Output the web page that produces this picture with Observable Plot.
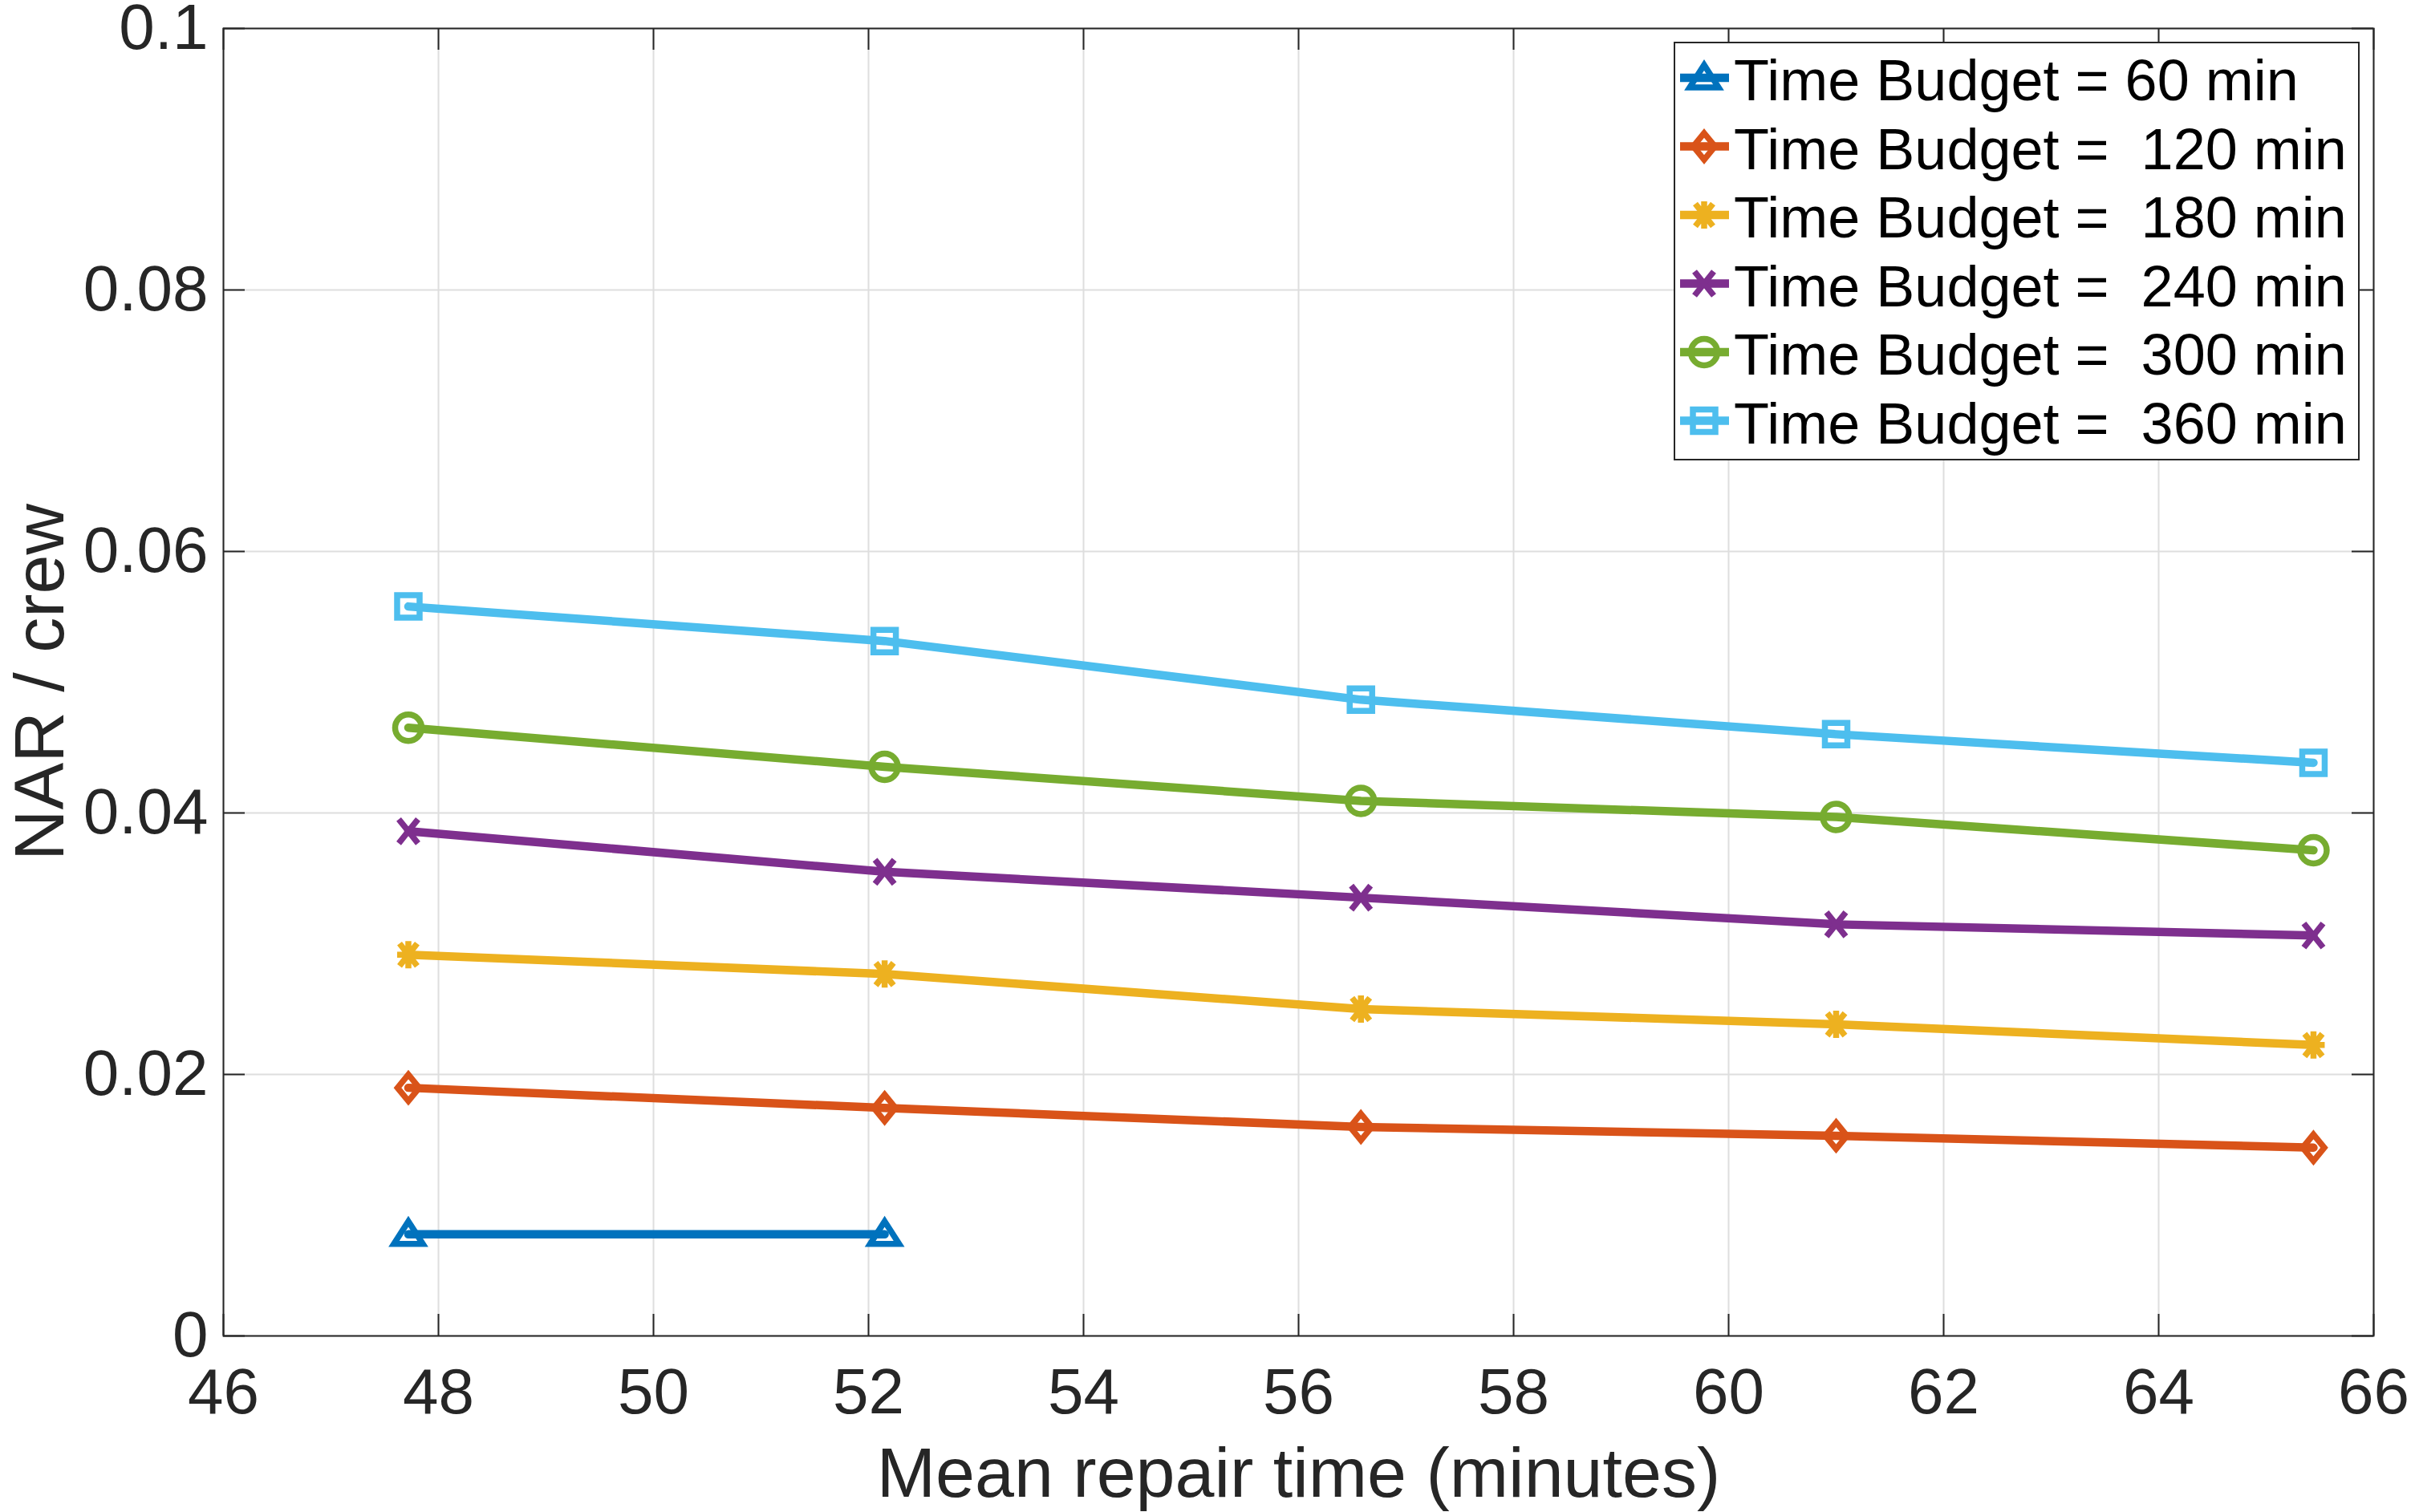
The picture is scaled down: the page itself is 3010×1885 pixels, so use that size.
<!DOCTYPE html>
<html>
<head>
<meta charset="utf-8">
<script src="https://cdn.jsdelivr.net/npm/d3@7"></script>
<script src="https://cdn.jsdelivr.net/npm/@observablehq/plot@0.6"></script>
<style>
  html, body { margin: 0; padding: 0; background: #fff; }
  #wrap { position: relative; width: 3010px; height: 1885px; }
  #legend { position: absolute; left: 2086px; top: 52px; width: 855px; height: 522px;
            box-sizing: border-box; border: 2px solid #262626; background: #fff; }
  #legend svg { position: absolute; left: 0; top: 0; }
</style>
</head>
<body>
<div id="wrap"></div>
<script>
// ---- data ----
const xValues = [47.72, 52.15, 56.58, 61.0, 65.44];
const budget60  = [0.00778, 0.00778];
const budget120 = [0.01898, 0.01744, 0.01598, 0.01531, 0.01440];
const budget180 = [0.02916, 0.02768, 0.02500, 0.02383, 0.02225];
const budget240 = [0.03860, 0.03550, 0.03352, 0.03148, 0.03063];
const budget300 = [0.04652, 0.04353, 0.04092, 0.03969, 0.03715];
const budget360 = [0.05579, 0.05315, 0.04866, 0.04602, 0.04384];
const seriesLabels = [
  "Time Budget = 60 min",
  "Time Budget =  120 min",
  "Time Budget =  180 min",
  "Time Budget =  240 min",
  "Time Budget =  300 min",
  "Time Budget =  360 min"
];
const xTicks = [46, 48, 50, 52, 54, 56, 58, 60, 62, 64, 66];
const xTickLabels = ["46", "48", "50", "52", "54", "56", "58", "60", "62", "64", "66"];
const yTicks = [0, 0.02, 0.04, 0.06, 0.08, 0.1];
const yTickLabels = ["0", "0.02", "0.04", "0.06", "0.08", "0.1"];
const xLabel = "Mean repair time (minutes)";
const yLabel = "NAR / crew";

// ---- styles ----
const seriesColors = ["#0072BD", "#D95319", "#EDB120", "#7E2F8E", "#77AC30", "#4DBEEE"];
// MATLAB-like marker shapes (custom symbol objects usable by Plot and d3.symbol)
const markerShapes = {
  triangle: {draw(c) { c.moveTo(0, -16); c.lineTo(18, 12); c.lineTo(-18, 12); c.closePath(); }},
  diamond:  {draw(c) { c.moveTo(0, -16.5); c.lineTo(13.5, 0); c.lineTo(0, 16.5); c.lineTo(-13.5, 0); c.closePath(); }},
  asterisk: {draw(c) {
    c.moveTo(0, -17); c.lineTo(0, 17);
    c.moveTo(-14, 0); c.lineTo(14, 0);
    c.moveTo(-11, -14); c.lineTo(11, 14);
    c.moveTo(-11, 14); c.lineTo(11, -14);
  }},
  times:    {draw(c) { c.moveTo(-12, -15); c.lineTo(12, 15); c.moveTo(-12, 15); c.lineTo(12, -15); }},
  circle:   {draw(c) { c.moveTo(16.5, 0); c.arc(0, 0, 16.5, 0, 2 * Math.PI); c.closePath(); }},
  square:   {draw(c) { c.moveTo(-14, -14); c.lineTo(14, -14); c.lineTo(14, 14); c.lineTo(-14, 14); c.closePath(); }}
};
const seriesMarkers = ["triangle", "diamond", "asterisk", "times", "circle", "square"];

const seriesValues = [budget60, budget120, budget180, budget240, budget300, budget360];
const series = seriesValues.map((vals, i) => ({
  label: seriesLabels[i],
  color: seriesColors[i],
  symbol: markerShapes[seriesMarkers[i]],
  rows: vals.map((v, j) => ({x: xValues[j], y: v}))
}));

const W = 3010, H = 1885;
const mL = 278, mR = 52, mT = 35, mB = 220;
const innerW = W - mL - mR, innerH = H - mT - mB;
const tickLen = 27;
const ink = "#262626";
const font = "'Liberation Sans', Arial, Helvetica, sans-serif";
const lineW = 10.5, markerW = 7.5;

const marks = [
  Plot.gridX(xTicks, {stroke: "#dedede", strokeOpacity: 1, strokeWidth: 2}),
  Plot.gridY(yTicks, {stroke: "#dedede", strokeOpacity: 1, strokeWidth: 2})
];
for (const s of series) {
  marks.push(Plot.line(s.rows, {x: "x", y: "y", stroke: s.color, strokeWidth: lineW}));
  marks.push(Plot.dot(s.rows, {x: "x", y: "y", symbol: s.symbol, r: 10, stroke: s.color,
    strokeWidth: markerW, fill: "none", strokeLinejoin: "miter"}));
}
marks.push(
  Plot.ruleX(xTicks, {stroke: ink, strokeWidth: 2, insetTop: innerH - tickLen}),
  Plot.ruleX(xTicks, {stroke: ink, strokeWidth: 2, insetBottom: innerH - tickLen}),
  Plot.ruleY(yTicks, {stroke: ink, strokeWidth: 2, insetRight: innerW - tickLen}),
  Plot.ruleY(yTicks, {stroke: ink, strokeWidth: 2, insetLeft: innerW - tickLen}),
  Plot.frame({stroke: ink, strokeWidth: 2}),
  Plot.axisX(xTicks, {anchor: "bottom", tickSize: 0, tickPadding: 40, fontSize: 80, color: ink, label: null,
    tickFormat: d => xTickLabels[xTicks.indexOf(d)]}),
  Plot.axisY(yTicks, {anchor: "left", tickSize: 0, tickPadding: 19, fontSize: 80, color: ink, label: null,
    tickFormat: d => yTickLabels[yTicks.indexOf(d)]}),
  Plot.text([xLabel], {text: d => d, frameAnchor: "bottom", dy: 172, fontSize: 88, fill: ink,
    textAnchor: "middle", lineAnchor: "middle"}),
  Plot.text([yLabel], {text: d => d, frameAnchor: "left", dx: -228, rotate: -90, fontSize: 88, fill: ink,
    textAnchor: "middle", lineAnchor: "middle"})
);

const chart = Plot.plot({
  width: W, height: H,
  marginLeft: mL, marginRight: mR, marginTop: mT, marginBottom: mB,
  x: {domain: [46, 66], axis: null},
  y: {domain: [0, 0.1], axis: null},
  style: {fontFamily: font, background: "#fff", overflow: "visible"},
  marks
});
const wrap = document.getElementById("wrap");
wrap.appendChild(chart);

// ---- legend ----
const legend = document.createElement("div");
legend.id = "legend";
wrap.appendChild(legend);
const lsvg = d3.select(legend).append("svg").attr("width", 851).attr("height", 518);
const rowStep = 85.5;
series.forEach((s, i) => {
  const cy = 43 + rowStep * i;
  const g = lsvg.append("g");
  g.append("line").attr("x1", 6).attr("x2", 67).attr("y1", cy).attr("y2", cy)
    .attr("stroke", s.color).attr("stroke-width", lineW);
  g.append("path")
    .attr("d", d3.symbol().type(s.symbol).size(314)())
    .attr("transform", `translate(36,${cy})`)
    .attr("fill", "none").attr("stroke", s.color).attr("stroke-width", markerW)
    .attr("stroke-linejoin", "miter");
  g.append("text").attr("x", 73).attr("y", 71 + rowStep * i)
    .attr("font-family", font).attr("font-size", 72).attr("fill", "#000")
    .style("white-space", "pre").attr("xml:space", "preserve")
    .text(s.label);
});
</script>
</body>
</html>
